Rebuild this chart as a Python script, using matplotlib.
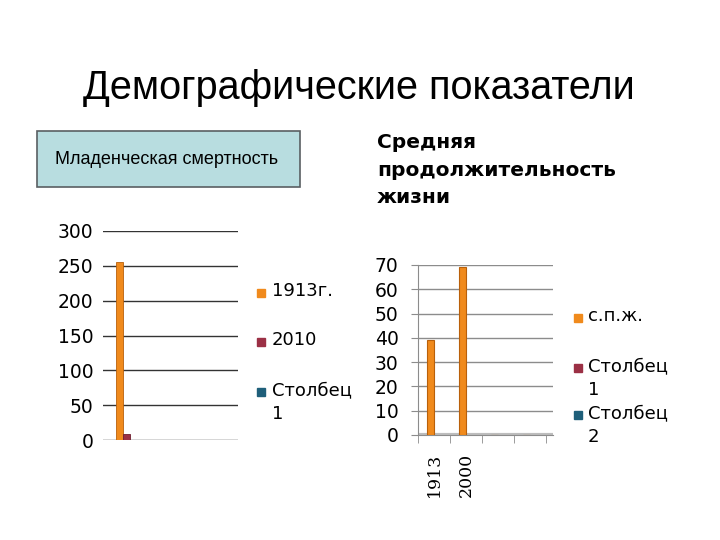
import matplotlib.pyplot as plt
from matplotlib.patches import Rectangle, FancyBboxPatch
import numpy as np

# данные
mort_series = ["1913г.", "2010", "Столбец\n1"]
mort_values = [255, 8, 0]

life_cats = ["1913", "2000", "", ""]
life_series = ["с.п.ж.", "Столбец\n1", "Столбец\n2"]
life_spzh = [39, 69, 0, 0]

colors = ["#F08A1C", "#9B3045", "#1F5F7A"]
edges = ["#B9600A", "#6E1F30", "#143F52"]

W, H = 720, 540
fig = plt.figure(figsize=(7.2, 5.4), dpi=100)


def px(x0, y0, x1, y1):
    # пиксели -> доли фигуры
    return [x0 / W, 1 - y1 / H, (x1 - x0) / W, (y1 - y0) / H]


fig.text(359 / W, 1 - 88 / H, "Демографические показатели", ha="center", va="center",
         fontsize=28.5, family="Liberation Sans")

# плашка
box = FancyBboxPatch((37 / W, 1 - 187 / H), 263 / W, 56 / H, boxstyle="square,pad=0",
                     transform=fig.transFigure, facecolor="#B8DDE0", edgecolor="#5A5F62", lw=1.2)
fig.patches.append(box)
fig.text(167 / W, 1 - 159 / H, "Младенческая смертность", ha="center", va="center",
         fontsize=13, family="Liberation Sans")

fig.text(377 / W, 1 - 170 / H, "Средняя\nпродолжительность\nжизни", ha="left", va="center",
         fontsize=14.5, family="DejaVu Sans", weight="bold", linespacing=1.58)

# левый график
ax1 = fig.add_axes(px(103, 231, 238, 440))
bw = 0.052
x0 = -0.378
for i, v in enumerate(mort_values):
    if v > 0:
        ax1.bar(x0 + i * bw, v, width=bw, color=colors[i], edgecolor=edges[i], lw=0.6, zorder=3)
ax1.set_xlim(-0.5, 0.5)
ax1.set_ylim(0, 300)
ax1.set_yticks(np.arange(0, 301, 50))
ax1.set_xticks([])
ax1.grid(axis="y", color="#333333", lw=1)
ax1.tick_params(axis="y", length=0, pad=7, labelsize=13.5)
for s in ax1.spines.values():
    s.set_visible(False)

# легенда слева
ly = [293, 342, 392]
for i, lab in enumerate(mort_series):
    fig.patches.append(Rectangle((257 / W, 1 - (ly[i] + 4) / H), 8 / W, 8 / H,
                                 transform=fig.transFigure, color=colors[i]))
    fig.text(272 / W, 1 - (ly[i] - 11) / H, lab, ha="left", va="top", fontsize=13,
             linespacing=1.4)

# правый график
ax2 = fig.add_axes(px(418, 265, 553, 435))
xs = np.arange(len(life_cats))
bw2 = 0.22
ax2.bar(xs - bw2 / 2, life_spzh, width=bw2, color=colors[0], edgecolor=edges[0], lw=0.8, zorder=3)
ax2.set_xlim(-0.5, 3.5 + 7 / 32)
ax2.set_ylim(0, 70)
ax2.set_yticks(np.arange(0, 71, 10))
ax2.grid(axis="y", color="#8C8C8C", lw=1)
ax2.axhline(0, color="#BDBDBD", lw=3, zorder=2)
ax2.tick_params(axis="y", length=5, color="#8C8C8C", pad=9, labelsize=13.5)
ax2.set_xticks(xs)
ax2.set_xticklabels(life_cats, rotation=90, family="DejaVu Serif", fontsize=12.5)
ax2.set_xticks(np.arange(-0.5, 4, 1), minor=True)
ax2.tick_params(axis="x", which="major", length=0, pad=13)
ax2.tick_params(axis="x", which="minor", length=6, color="#8C8C8C")
for k in ["top", "right"]:
    ax2.spines[k].set_visible(False)
ax2.spines["left"].set_color("#8C8C8C")
ax2.spines["bottom"].set_color("#8C8C8C")

# легенда справа
ry = [318, 368, 415]
for i, lab in enumerate(life_series):
    fig.patches.append(Rectangle((574 / W, 1 - (ry[i] + 4) / H), 8 / W, 8 / H,
                                 transform=fig.transFigure, color=colors[i]))
    fig.text(588 / W, 1 - (ry[i] - 11) / H, lab, ha="left", va="top", fontsize=13,
             linespacing=1.4)

fig.savefig("out.png", dpi=100)
